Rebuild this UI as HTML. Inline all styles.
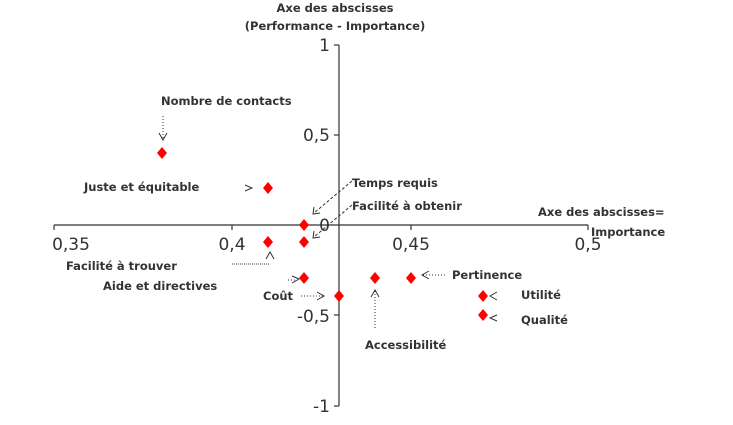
<!DOCTYPE html>
<html><head><meta charset="utf-8"><style>
html,body{margin:0;padding:0;background:#fff;}
svg{display:block;}
.l{font-family:"DejaVu Sans",Verdana,sans-serif;font-weight:bold;font-size:11.5px;fill:#333;}
.t{font-family:"DejaVu Sans",sans-serif;font-size:17px;fill:#333;}
</style></head><body>
<svg width="733" height="425" viewBox="0 0 733 425" xmlns="http://www.w3.org/2000/svg">
<g stroke="#333" stroke-width="1.2" fill="none">
<line x1="339" y1="45" x2="339" y2="406"/>
<line x1="54" y1="225" x2="588" y2="225"/>
<line x1="334" y1="45" x2="339" y2="45"/>
<line x1="334" y1="135" x2="339" y2="135"/>
<line x1="334" y1="315" x2="339" y2="315"/>
<line x1="334" y1="406" x2="339" y2="406"/>
<line x1="54" y1="225" x2="54" y2="230"/>
<line x1="232" y1="225" x2="232" y2="230"/>
<line x1="411" y1="225" x2="411" y2="230"/>
<line x1="588" y1="225" x2="588" y2="230"/>
</g>
<g class="t">
<text x="330" y="51" text-anchor="end">1</text>
<text x="330" y="141" text-anchor="end">0,5</text>
<text x="330" y="231" text-anchor="end">0</text>
<text x="330" y="322" text-anchor="end">-0,5</text>
<text x="330" y="412" text-anchor="end">-1</text>
<text x="71" y="250" text-anchor="middle">0,35</text>
<text x="232" y="250" text-anchor="middle">0,4</text>
<text x="411" y="250" text-anchor="middle">0,45</text>
<text x="588" y="250" text-anchor="middle">0,5</text>
</g>
<g class="l">
<text x="335" y="12" text-anchor="middle">Axe des abscisses</text>
<text x="335" y="30" text-anchor="middle">(Performance - Importance)</text>
<text x="161" y="105">Nombre de contacts</text>
<text x="84" y="191">Juste et équitable</text>
<text x="352" y="187">Temps requis</text>
<text x="352" y="210">Facilité à obtenir</text>
<text x="538" y="216">Axe des abscisses=</text>
<text x="591" y="236">Importance</text>
<text x="66" y="270">Facilité à trouver</text>
<text x="103" y="290">Aide et directives</text>
<text x="263" y="300">Coût</text>
<text x="452" y="279">Pertinence</text>
<text x="521" y="299">Utilité</text>
<text x="521" y="324">Qualité</text>
<text x="365" y="349">Accessibilité</text>
</g>
<g fill="#f00">
<polygon points="162,147 167,153 162,159 157,153"/>
<polygon points="268,182 273,188 268,194 263,188"/>
<polygon points="304,219 309,225 304,231 299,225"/>
<polygon points="268,236 273,242 268,248 263,242"/>
<polygon points="304,236 309,242 304,248 299,242"/>
<polygon points="304,272 309,278 304,284 299,278"/>
<polygon points="375,272 380,278 375,284 370,278"/>
<polygon points="411,272 416,278 411,284 406,278"/>
<polygon points="339,290 344,296 339,302 334,296"/>
<polygon points="483,290 488,296 483,302 478,296"/>
<polygon points="483,309 488,315 483,321 478,315"/>
</g>
<g stroke="#333" stroke-width="1" fill="none">
<line x1="163" y1="116" x2="163" y2="139" stroke-dasharray="1,2"/>
<polyline points="159,133 163,140 167,133"/>
<polyline points="245,185 252,188 245,191"/>
<line x1="352" y1="181" x2="314" y2="213" stroke-dasharray="3,2"/>
<polyline points="314,207 313,214 320,213"/>
<line x1="352" y1="205" x2="314" y2="237" stroke-dasharray="3,2"/>
<polyline points="314,231 313,238 320,237"/>
<line x1="232" y1="264" x2="270" y2="264" stroke-dasharray="1,1"/>
<polyline points="266,259 270,252 274,259"/>
<line x1="288" y1="280" x2="298" y2="280" stroke-dasharray="1,2"/>
<polyline points="292,276 299,279 292,283"/>
<line x1="301" y1="296" x2="323" y2="296" stroke-dasharray="1,2"/>
<polyline points="317,292 324,296 317,300"/>
<line x1="375" y1="328" x2="375" y2="291" stroke-dasharray="1,2"/>
<polyline points="371,297 375,290 379,297"/>
<line x1="423" y1="275" x2="445" y2="275" stroke-dasharray="1,2"/>
<polyline points="429,271 422,275 429,279"/>
<polyline points="497,292 490,296 497,300"/>
<polyline points="497,315 490,318 497,321"/>
</g>
</svg>
</body></html>
